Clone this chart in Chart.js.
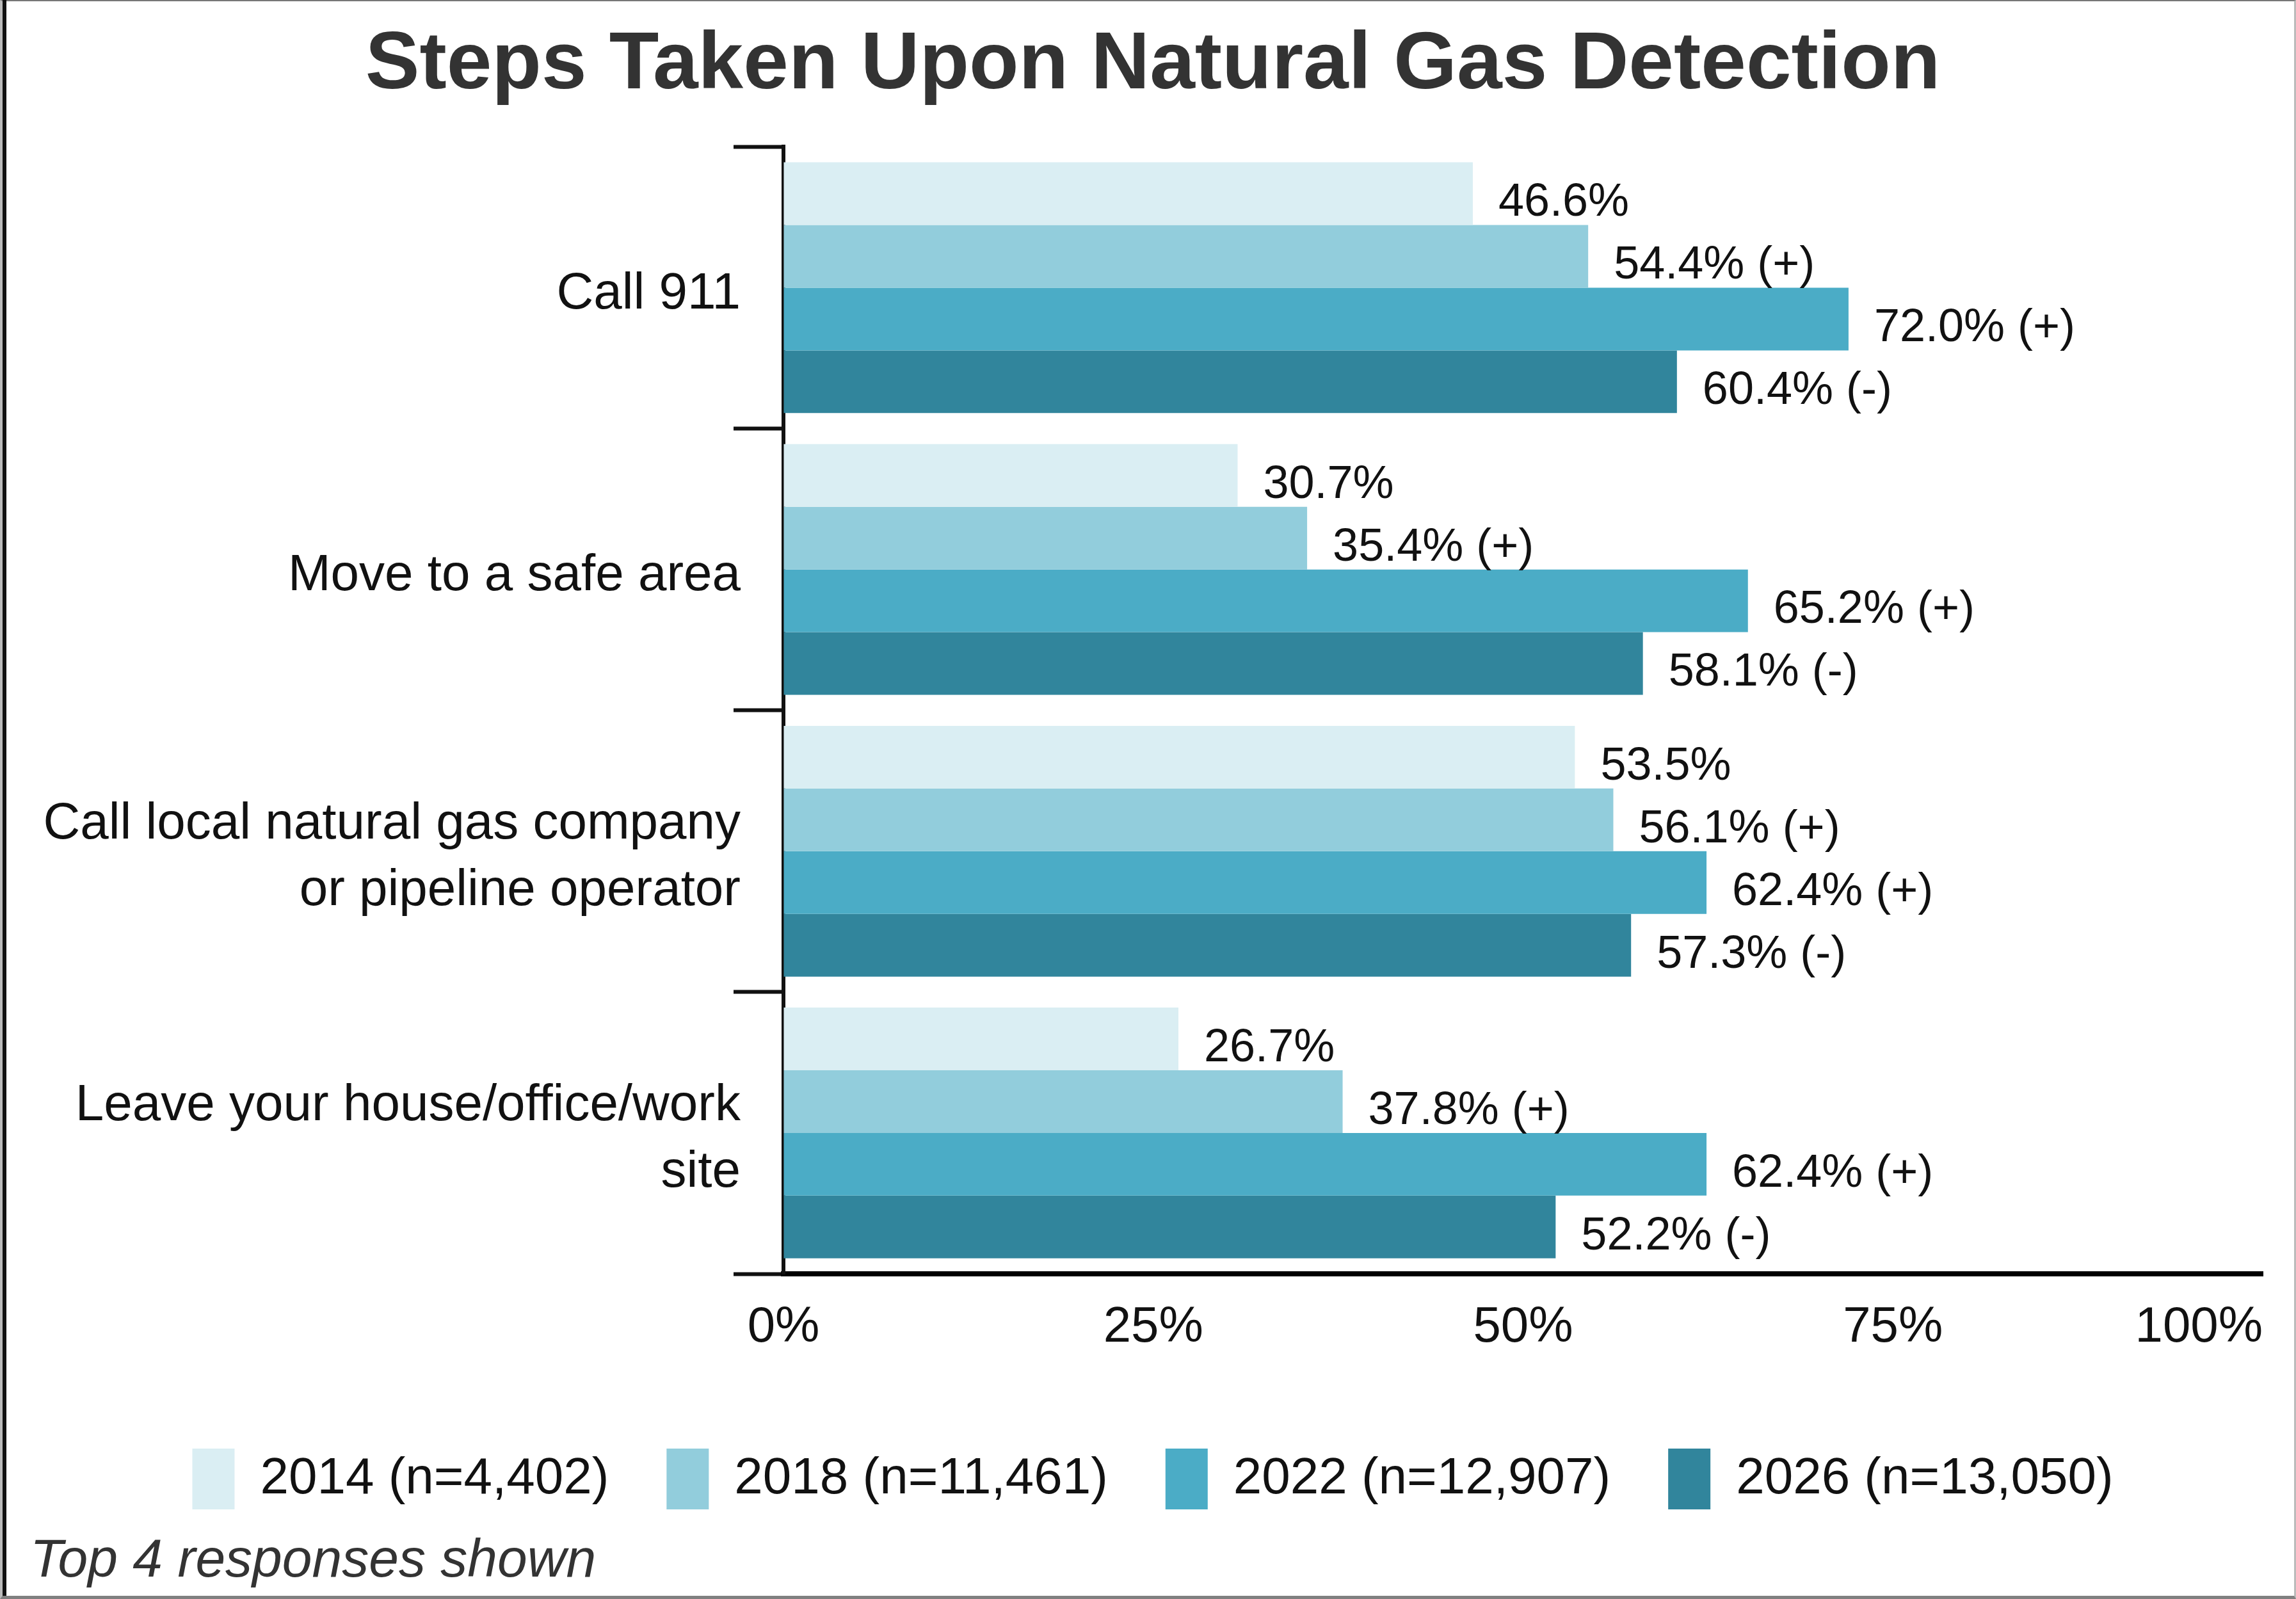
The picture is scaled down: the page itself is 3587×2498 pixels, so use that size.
<!DOCTYPE html>
<html>
<head>
<meta charset="utf-8">
<script src="https://cdn.jsdelivr.net/npm/chart.js@4/dist/chart.umd.min.js"></script>
<style>
html,body{margin:0;padding:0;background:#fff;}
#wrap{position:relative;width:3587px;height:2498px;background:#fff;overflow:hidden;}
#c{position:absolute;left:0;top:0;}
#frame{position:absolute;left:0;top:0;width:3587px;height:2498px;box-sizing:border-box;border-top:2px solid #777;border-right:3px solid #bbb;border-bottom:5px solid #808080;border-left:4px solid #bbb;pointer-events:none;}
#frameL{position:absolute;left:4px;top:0;width:6px;height:2493px;background:#111;pointer-events:none;}
#note{position:absolute;left:47px;top:2392px;font:italic 84px 'Liberation Sans',Arial,sans-serif;line-height:1;color:#333;white-space:nowrap;}
</style>
</head>
<body>
<div id="wrap">
  <canvas id="c" width="3587" height="2498"></canvas>
  <div id="frame"></div>
  <div id="frameL"></div>
  <div id="note"></div>
</div>
<script>
// ---- data ----
const categories = [
  ['Call 911'],
  ['Move to a safe area'],
  ['Call local natural gas company', 'or pipeline operator'],
  ['Leave your house/office/work', 'site']
];
const seriesNames = ['2014 (n=4,402)', '2018 (n=11,461)', '2022 (n=12,907)', '2026 (n=13,050)'];
const values2014 = [46.6, 30.7, 53.5, 26.7];
const values2018 = [54.4, 35.4, 56.1, 37.8];
const values2022 = [72.0, 65.2, 62.4, 62.4];
const values2026 = [60.4, 58.1, 57.3, 52.2];
const significance = ['', ' (+)', ' (+)', ' (-)'];
const xTickValues = [0, 25, 50, 75, 100];
const xTickLabels = ['0%', '25%', '50%', '75%', '100%'];
const titleText = 'Steps Taken Upon Natural Gas Detection';
const footnote = 'Top 4 responses shown';

// ---- styles ----
const seriesColors = ['#DAEEF3', '#92CDDC', '#4BACC6', '#31859C'];
const FONT = "'Liberation Sans', Arial, Helvetica, sans-serif";
const TEXT = '#111111';

document.getElementById('note').textContent = footnote;

const allValues = [values2014, values2018, values2022, values2026];
const datasets = allValues.map((vals, i) => ({
  label: seriesNames[i],
  data: vals,
  backgroundColor: seriesColors[i],
  borderWidth: 0,
  categoryPercentage: 0.89,
  barPercentage: 1.0
}));

const barLabels = {
  id: 'barLabels',
  afterDatasetsDraw(chart) {
    const ctx = chart.ctx;
    ctx.save();
    ctx.font = '72px ' + FONT;
    ctx.fillStyle = TEXT;
    ctx.textAlign = 'left';
    ctx.textBaseline = 'middle';
    chart.data.datasets.forEach((ds, di) => {
      const meta = chart.getDatasetMeta(di);
      meta.data.forEach((bar, i) => {
        const v = ds.data[i];
        ctx.fillText(v.toFixed(1) + '%' + significance[di], bar.x + 40, bar.y + 15);
      });
    });
    ctx.restore();
  }
};

const xLabels = {
  id: 'xLabels',
  afterDraw(chart) {
    const s = chart.scales.x;
    const ctx = chart.ctx;
    ctx.save();
    ctx.font = '78px ' + FONT;
    ctx.fillStyle = TEXT;
    ctx.textBaseline = 'middle';
    s.ticks.forEach((t, i) => {
      const idx = xTickValues.indexOf(t.value);
      if (idx < 0) return;
      const last = i === s.ticks.length - 1;
      const x = last ? chart.chartArea.right : s.getPixelForValue(t.value);
      ctx.textAlign = last ? 'right' : 'center';
      ctx.fillText(xTickLabels[idx], x, s.top + 84);
    });
    ctx.restore();
  }
};

new Chart(document.getElementById('c'), {
  type: 'bar',
  data: { labels: categories, datasets: datasets },
  plugins: [barLabels, xLabels],
  options: {
    responsive: false,
    animation: false,
    indexAxis: 'y',
    devicePixelRatio: 1,
    layout: { padding: { left: 67, right: 52, top: 0, bottom: 130 } },
    plugins: {
      title: {
        display: true,
        text: titleText,
        color: '#333333',
        font: { family: FONT, size: 127, weight: 'bold', lineHeight: 1.2 },
        padding: { top: 27, bottom: 50 }
      },
      legend: {
        position: 'bottom',
        labels: {
          boxWidth: 66,
          boxHeight: 95,
          padding: 90,
          color: TEXT,
          font: { family: FONT, size: 80 }
        }
      },
      tooltip: { enabled: false }
    },
    scales: {
      x: {
        min: 0,
        max: 100,
        ticks: { display: false, stepSize: 25 },
        grid: { display: true, drawOnChartArea: false, drawTicks: false },
        border: { display: true, color: '#000000', width: 8 },
        afterFit(s) { s.height = 183; }
      },
      y: {
        ticks: {
          color: TEXT,
          font: { family: FONT, size: 80, lineHeight: 1.3 },
          padding: -11,
          labelOffset: 10,
          autoSkip: false
        },
        grid: {
          display: true,
          drawOnChartArea: false,
          drawTicks: true,
          tickLength: 78,
          tickColor: '#111111',
          tickWidth: 6,
          offset: true
        },
        border: { display: true, color: '#111111', width: 6 },
        afterFit(s) { s.width = 1157; }
      }
    }
  }
});
</script>
</body>
</html>
